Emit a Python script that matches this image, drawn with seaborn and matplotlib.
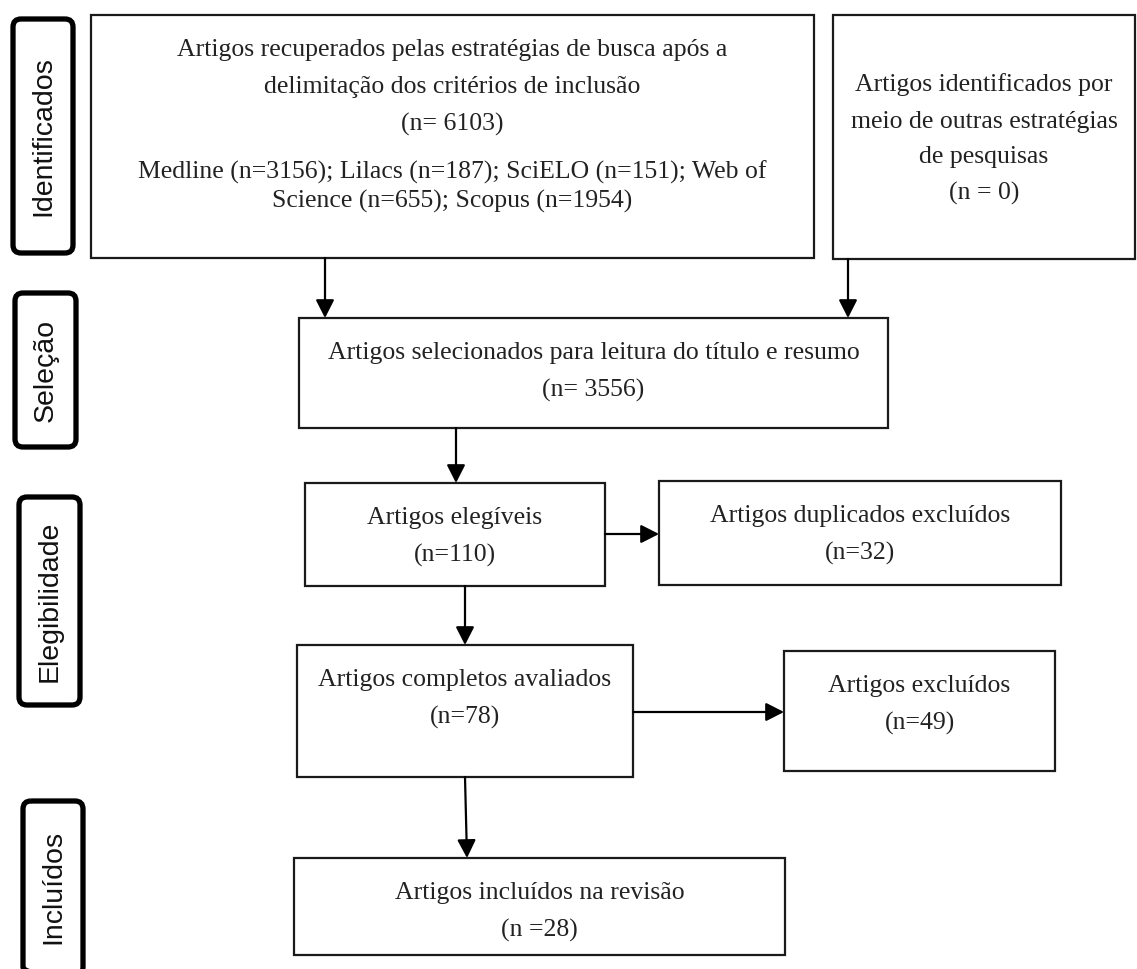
import matplotlib
matplotlib.use("Agg")
import matplotlib.pyplot as plt
import seaborn as sns
from matplotlib.patches import Rectangle, FancyBboxPatch

sns.set_style("white")

# Etapas do fluxograma (rótulos laterais)
etapas = ["Identificados", "Seleção", "Elegibilidade", "Incluídos"]

# Bases de dados e número de artigos recuperados
bases = ["Medline", "Lilacs", "SciELO", "Web of Science", "Scopus"]
n_bases = [3156, 187, 151, 655, 1954]

# Textos e valores de cada caixa
caixas_nomes = ["busca", "outras", "selec", "eleg", "dup", "compl", "excl", "incl"]
caixas_textos = [
    ["Artigos recuperados pelas estratégias de busca após a",
     "delimitação dos critérios de inclusão"],
    ["Artigos identificados por", "meio de outras estratégias", "de pesquisas"],
    ["Artigos selecionados para leitura do título e resumo"],
    ["Artigos elegíveis"],
    ["Artigos duplicados excluídos"],
    ["Artigos completos avaliados"],
    ["Artigos excluídos"],
    ["Artigos incluídos na revisão"],
]
n_valores = [6103, 0, 3556, 110, 32, 78, 49, 28]
n_formatos = ["(n= {})", "(n = {})", "(n= {})", "(n={})", "(n={})", "(n={})", "(n={})", "(n ={})"]

# Layout (pixels, origem no canto superior esquerdo)
pos_caixas = {
    "busca": (91, 15, 814, 258),
    "outras": (833, 15, 1135, 259),
    "selec": (299, 318, 888, 428),
    "eleg": (305, 483, 605, 586),
    "dup": (659, 481, 1061, 585),
    "compl": (297, 645, 633, 777),
    "excl": (784, 651, 1055, 771),
    "incl": (294, 858, 785, 955),
}
linhas_y = {
    "busca": [50, 87, 124],
    "outras": [85, 122, 157, 193],
    "selec": [353, 390],
    "eleg": [518, 555],
    "dup": [516, 553],
    "compl": [680, 717],
    "excl": [686, 723],
    "incl": [893, 930],
}
pos_etapas = [(13, 19, 73, 253), (15, 293, 76, 447), (19, 497, 80, 705), (23, 801, 83, 975)]
setas = [
    ((325, 258), (325, 318)),
    ((848, 259), (848, 318)),
    ((456, 428), (456, 483)),
    ((605, 534), (659, 534)),
    ((465, 586), (465, 645)),
    ((633, 712), (784, 712)),
    ((465, 777), (467, 858)),
]

fig = plt.figure(figsize=(11.37, 9.69), dpi=100)
ax = fig.add_axes([0, 0, 1, 1])
ax.set_xlim(0, 1137)
ax.set_ylim(969, 0)
ax.axis("off")

serif = ["Liberation Serif", "DejaVu Serif"]
cor_txt = "#222222"

# Caixas principais
for nome, textos, n, fmt in zip(caixas_nomes, caixas_textos, n_valores, n_formatos):
    x0, y0, x1, y1 = pos_caixas[nome]
    ax.add_patch(Rectangle((x0, y0), x1 - x0, y1 - y0, fill=False,
                           edgecolor="#1a1a1a", lw=1.6))
    cx = (x0 + x1) / 2
    linhas = textos + [fmt.format(n)]
    for txt, y in zip(linhas, linhas_y[nome]):
        ax.text(cx, y, txt, ha="center", va="center", fontsize=18.5,
                family=serif, color=cor_txt)

# Bases de dados na primeira caixa
texto_bases = "; ".join(f"{b} (n={v})" for b, v in zip(bases, n_bases))
texto_bases = texto_bases.replace("Web of Science", "Web of\nScience")
x0, y0, x1, y1 = pos_caixas["busca"]
for txt, y in zip(texto_bases.split("\n"), [172, 201]):
    ax.text((x0 + x1) / 2, y, txt, ha="center", va="center", fontsize=18.5,
            family=serif, color=cor_txt)

# Rótulos laterais
for etapa, (x0, y0, x1, y1) in zip(etapas, pos_etapas):
    ax.add_patch(FancyBboxPatch((x0 + 8, y0 + 8), x1 - x0 - 16, y1 - y0 - 16,
                                boxstyle="round,pad=8", fill=False,
                                edgecolor="black", lw=3.8))
    ax.text((x0 + x1) / 2, (y0 + y1) / 2 if y1 < 969 else 887, etapa,
            rotation=90, ha="center", va="center", fontsize=20.5,
            family=["Liberation Sans", "DejaVu Sans"], color="#111111")

# Setas
for (xa, ya), (xb, yb) in setas:
    ax.annotate("", xy=(xb, yb), xytext=(xa, ya),
                arrowprops=dict(arrowstyle="-|>,head_length=0.55,head_width=0.28",
                                mutation_scale=20, lw=1.6, color="black",
                                shrinkA=0, shrinkB=0))

fig.savefig("out.png", dpi=100, facecolor="white")
